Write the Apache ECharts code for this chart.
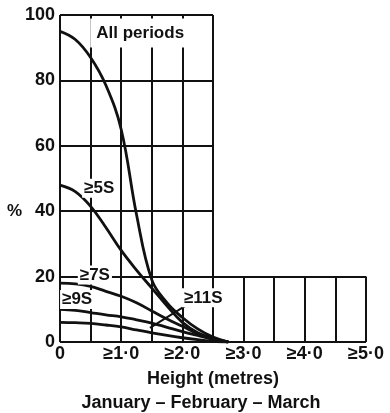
<!DOCTYPE html>
<html>
<head>
<meta charset="utf-8">
<title></title>
<script src="https://cdn.jsdelivr.net/npm/echarts@6/dist/echarts.min.js"></script>
<style>
html, body { margin: 0; padding: 0; background: #fff; }
</style>
</head>
<body>
<div id="main" style="width: 390px;height:413px;"></div>
<script type="text/javascript">

let HEIGHTS = [0, 0.25, 0.5, 0.75, 1.0, 1.25, 1.5, 1.75, 2.0, 2.25, 2.5, 2.75];

// percentage of observations >= height
let ALL_PERIODS = [95, 92.5, 87, 78.5, 65, 39, 19, 12, 7.5, 4, 1.5, 0];
let P5 = [48, 46, 41.5, 35, 28, 22, 16.5, 11, 6, 2.8, 1, 0];
let P7 = [18, 17.8, 17, 15.5, 14, 12, 9.5, 7, 4.8, 2.5, 1, 0];
let P9 = [10, 9.7, 9, 8.3, 7.7, 6.8, 5.8, 4.5, 3.2, 2, 0.8, 0];
let P11 = [6, 5.9, 5.7, 5.2, 4.6, 3.7, 2.8, 2, 1.3, 0.7, 0.2, 0];

let X_TICKS = [0, 1, 2, 3, 4, 5];
let X_LABELS = ['0', '≥1·0', '≥2·0', '≥3·0', '≥4·0', '≥5·0'];

let FONT = "'Liberation Sans', Arial, sans-serif";
let INK = '#111';
let FS = 18;

function pairs(xs, ys){
	return xs.map((x, i) => [x, ys[i]]);
}

// grid: upper block 0..2.5 m up to 100 %, lower strip 0..5 m up to 20 %
function gridLines(){
	let lines = [];
	let seg = (x0, y0, x1, y1) => lines.push([{ coord: [x0, y0] }, { coord: [x1, y1] }]);
	for(let x = 0; x <= 5.001; x += 0.5){
		seg(x, 0, x, x <= 2.501 ? 100 : 20);
	}
	for(let y = 0; y <= 100; y += 20){
		seg(0, y, y <= 20 ? 5 : 2.5, y);
	}
	return lines;
}

function curve(name, ys, label){
	return {
		name: name,
		type: 'line',
		data: pairs(HEIGHTS, ys),
		smooth: 0.4,
		symbol: 'none',
		z: 3,
		lineStyle: { color: INK, width: 2.8 },
		markPoint: label ? {
			symbol: 'rect',
			symbolSize: 0,
			silent: true,
			data: [{ coord: label.at, value: label.text }],
			label: {
				show: true,
				position: 'inside',
				formatter: label.text,
				color: INK,
				fontFamily: FONT,
				fontWeight: 'bold',
				fontSize: 17,
				backgroundColor: '#fff',
				padding: label.pad || [1, 2]
			}
		} : undefined
	};
}

let series = [
	{
		type: 'line',
		data: [],
		silent: true,
		z: 1,
		markLine: {
			silent: true,
			symbol: 'none',
			animation: false,
			label: { show: false },
			lineStyle: { color: INK, width: 2, type: 'solid' },
			data: gridLines()
		}
	},
	curve('All periods', ALL_PERIODS, { at: [1.31, 94.5], text: 'All periods', pad: [6, 6, 6, 6] }),
	curve('≥5S', P5, { at: [0.64, 47], text: '≥5S' }),
	curve('≥7S', P7, { at: [0.57, 20.5], text: '≥7S' }),
	curve('≥9S', P9, { at: [0.28, 13], text: '≥9S' }),
	curve('≥11S', P11, { at: [2.34, 13.5], text: '≥11S' })
];

// leader from the >=11S label down to the curves
series[5].markLine = {
	silent: true,
	symbol: 'none',
	animation: false,
	label: { show: false },
	lineStyle: { color: INK, width: 2, type: 'solid' },
	data: [[{ coord: [2.12, 11.9] }, { coord: [1.47, 4.3] }]]
};

var myChart = echarts.init(document.getElementById('main'));
myChart.setOption({
	animation: false,
	backgroundColor: '#fff',
	grid: { left: 60, right: 24, top: 15, bottom: 71 },
	xAxis: {
		type: 'value',
		min: 0,
		max: 5,
		interval: 1,
		name: 'Height (metres)',
		nameLocation: 'middle',
		nameGap: 28,
		nameTextStyle: { color: INK, fontFamily: FONT, fontWeight: 'bold', fontSize: FS },
		axisLine: { show: false },
		axisTick: { show: false },
		splitLine: { show: false },
		axisLabel: {
			color: INK,
			fontFamily: FONT,
			fontWeight: 'bold',
			fontSize: FS,
			margin: 3,
			formatter: (v) => X_LABELS[X_TICKS.indexOf(Math.round(v))]
		}
	},
	yAxis: {
		type: 'value',
		min: 0,
		max: 100,
		interval: 20,
		axisLine: { show: false },
		axisTick: { show: false },
		splitLine: { show: false },
		axisLabel: { color: INK, fontFamily: FONT, fontWeight: 'bold', fontSize: FS, margin: 5 }
	},
	graphic: [
		{
			type: 'text',
			left: 7,
			top: 203,
			style: { text: '%', fill: INK, font: 'bold 17px ' + FONT }
		},
		{
			type: 'text',
			x: 201,
			y: 394,
			style: { text: 'January – February – March', fill: INK, font: 'bold ' + FS + 'px ' + FONT, textAlign: 'center' }
		}
	],
	series: series
});

</script>
</body>
</html>
